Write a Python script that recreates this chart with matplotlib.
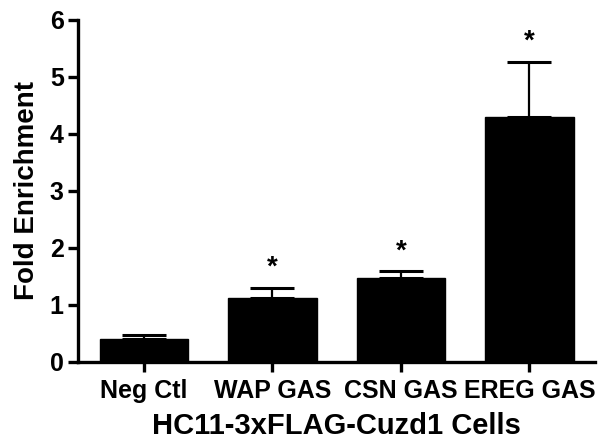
import matplotlib
matplotlib.use('Agg')
import matplotlib.pyplot as plt

plt.rcParams['font.family'] = ['Liberation Sans', 'DejaVu Sans']
plt.rcParams['font.weight'] = 'bold'

groups = ['Neg Ctl', 'WAP GAS', 'CSN GAS', 'EREG GAS']
fold = [0.40, 1.12, 1.47, 4.30]
sem = [0.07, 0.18, 0.12, 0.97]
signif = [False, True, True, True]

fig = plt.figure(figsize=(5.98, 4.42), dpi=100)
ax = fig.add_axes([0.130, 0.181, 0.865, 0.774])

x = range(len(groups))
ax.bar(x, fold, width=0.69, color='black', edgecolor='black', zorder=2)
ax.errorbar(x, fold, yerr=[[0] * len(sem), sem], fmt='none', ecolor='black',
            elinewidth=1.6, capsize=16, capthick=2.2, zorder=1)

# asterisks above the significant bars
for i in x:
    if signif[i]:
        ax.text(i, fold[i] + sem[i] + 0.12, '*', ha='center', va='bottom',
                fontsize=20, fontweight='bold')

ax.set_xlim(-0.515, 3.51)
ax.set_ylim(0, 6)
ax.set_yticks(range(7))
ax.set_xticks(list(x))
ax.set_xticklabels(groups)

for s in ['top', 'right']:
    ax.spines[s].set_visible(False)
for s in ['left', 'bottom']:
    ax.spines[s].set_linewidth(2.4)

ax.tick_params(axis='both', width=2.4, length=7, labelsize=18, pad=3)
ax.tick_params(axis='x', pad=5)
for lab in ax.get_xticklabels() + ax.get_yticklabels():
    lab.set_fontweight('bold')

ax.set_ylabel('Fold Enrichment', fontsize=20, fontweight='bold', labelpad=7)
ax.set_xlabel('HC11-3xFLAG-Cuzd1 Cells', fontsize=21, fontweight='bold', labelpad=7)

fig.savefig('out.png', dpi=100)
